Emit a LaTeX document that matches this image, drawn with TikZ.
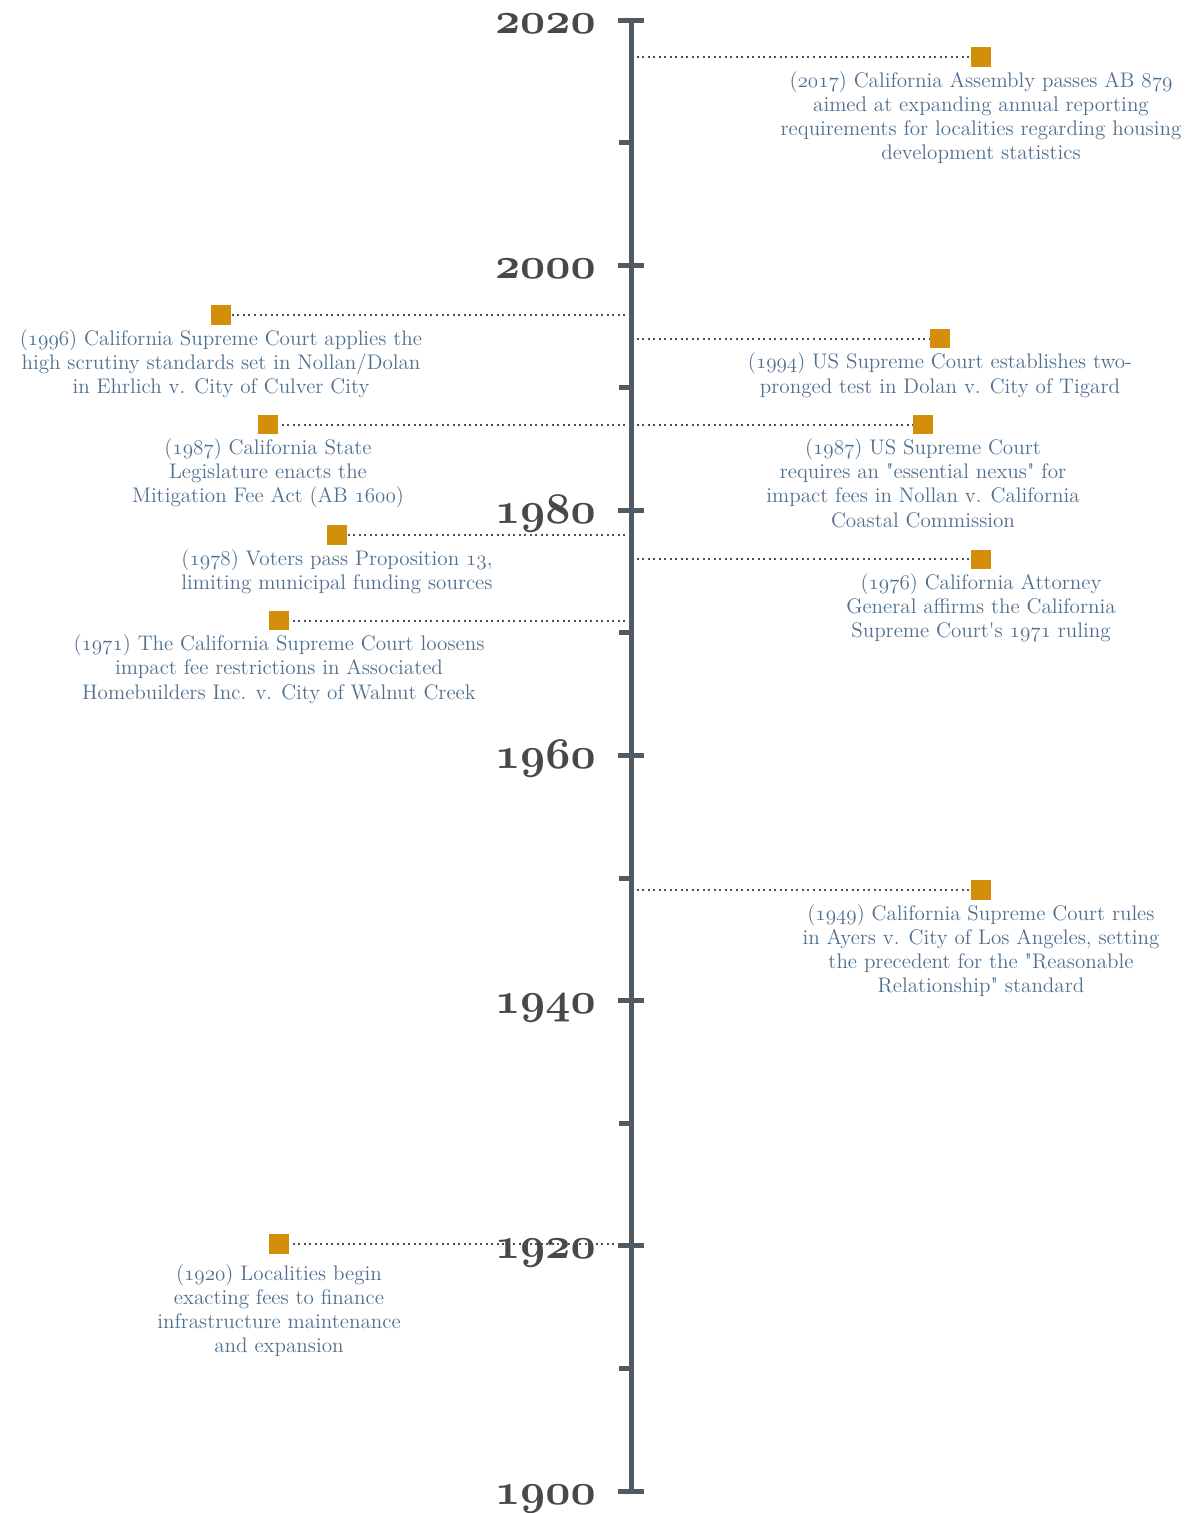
\documentclass[tikz,border=0pt]{standalone}
\usepackage{fontspec}
\usetikzlibrary{positioning}

\definecolor{axisgray}{HTML}{4F5A64}
\definecolor{notetext}{HTML}{4E6F8E}
\definecolor{markgold}{HTML}{D48F0A}
\definecolor{dotblue}{HTML}{3E5569}
\definecolor{yeargray}{HTML}{484848}
\newfontfamily\lmplain{Latin Modern Roman}
\newcommand{\os}[1]{{\usefont{OML}{cmm}{m}{it}#1}}
\newcommand{\osb}[1]{{\usefont{OML}{cmm}{b}{it}#1}}
\newcommand{\dq}{{\lmplain"}}
\newcommand{\sq}{{\lmplain'}}

\begin{document}
\begin{tikzpicture}[
  x=0.2mm, y=-0.2mm,
  axisline/.style={
        draw=axisgray,
        line width=1mm
  },
  marker/.style={
        fill=markgold,
        minimum size=3.9mm,
        inner sep=0
  },
  note/.style={
        text=notetext,
        align=center,
        inner sep=0,
        font=\fontsize{12}{13.7}\selectfont
  },
  yearlabel/.style={
        text=yeargray,
        anchor=base east,
        inner sep=0,
        font=\fontsize{24.88}{25}\selectfont
  },
  link/.style={
        draw=dotblue,
        line width=0.4mm,
        dotted
  }
]

    \useasboundingbox (0,0) rectangle (1204,1513);

    % year labels
    \foreach \yr [count=\i from 0] in {2020,2000,...,1900}
        \node[yearlabel] (y\yr) at (596, {20+\i*245.17+13}) {\osb{\yr}};

    % events, right side
    \node[marker] (m2017) at (981, 56.8) {};
    \node[note, below=0.8mm of m2017] (n2017) {(\os{2017}) California Assembly passes AB \os{879}\\aimed at expanding annual reporting\\requirements for localities regarding housing\\development statistics};
    \node[marker] (m1994) at (940, 338.7) {};
    \node[note, below=0.8mm of m1994] (n1994) {(\os{1994}) US Supreme Court establishes two-\\pronged test in Dolan v. City of Tigard};
    \node[marker] (m1987b) at (923, 424.5) {};
    \node[note, below=0.8mm of m1987b] (n1987b) {(\os{1987}) US Supreme Court\\requires an \dq essential nexus\dq{} for\\impact fees in Nollan v. California\\Coastal Commission};
    \node[marker] (m1976) at (981, 559.4) {};
    \node[note, below=0.8mm of m1976] (n1976) {(\os{1976}) California Attorney\\General affirms the California\\Supreme Court\sq s \os{1971} ruling};
    \node[marker] (m1949) at (981, 890) {};
    \node[note, below=0.8mm of m1949] (n1949) {(\os{1949}) California Supreme Court rules\\in Ayers v. City of Los Angeles, setting\\the precedent for the \dq Reasonable\\Relationship\dq{} standard};

    % events, left side
    \node[marker] (m1996) at (221, 315) {};
    \node[note, below=0.8mm of m1996] (n1996) {(\os{1996}) California Supreme Court applies the\\high scrutiny standards set in Nollan/Dolan\\in Ehrlich v. City of Culver City};
    \node[marker] (m1987a) at (268, 424.5) {};
    \node[note, below=0.8mm of m1987a] (n1987a) {(\os{1987}) California State\\Legislature enacts the\\Mitigation Fee Act (AB \os{1600})};
    \node[marker] (m1978) at (337, 534.8) {};
    \node[note, below=0.8mm of m1978] (n1978) {(\os{1978}) Voters pass Proposition \os{13},\\limiting municipal funding sources};
    \node[marker] (m1971) at (279, 620.6) {};
    \node[note, below=0.8mm of m1971] (n1971) {(\os{1971}) The California Supreme Court loosens\\impact fee restrictions in Associated\\Homebuilders Inc. v. City of Walnut Creek};
    \node[marker] (m1920) at (279, 1244) {};
    \node[note, below=2mm of m1920] (n1920) {(\os{1920}) Localities begin\\exacting fees to finance\\infrastructure maintenance\\and expansion};

    % points on the axis
    \coordinate (t2017) at (631, 56.8);
    \coordinate (t1996) at (631, 315);
    \coordinate (t1994) at (631, 338.7);
    \coordinate (t1987) at (631, 424.5);
    \coordinate (t1978) at (631, 534.8);
    \coordinate (t1976) at (631, 559.4);
    \coordinate (t1971) at (631, 620.6);
    \coordinate (t1949) at (631, 890);
    \coordinate (t1920) at (631, 1244);

    \draw[link] (t2017) -- (m2017);
    \draw[link] (t1996) -- (m1996);
    \draw[link] (t1994) -- (m1994);
    \draw[link] (t1987) -- (m1987a);
    \draw[link] (t1987) -- (m1987b);
    \draw[link] (t1978) -- (m1978);
    \draw[link] (t1976) -- (m1976);
    \draw[link] (t1971) -- (m1971);
    \draw[link] (t1949) -- (m1949);
    \draw[link] (t1920) -- (m1920);

    % the axis
    \draw[axisline] (631, 17.5) -- (631, 1493.6);
    \foreach \i in {0,...,6}
        \draw[axisline] (618, {20+\i*245.17}) -- (644, {20+\i*245.17});
    \foreach \i in {0,...,5}
        \draw[axisline] (619, {20+\i*245.17+122.6}) -- (631, {20+\i*245.17+122.6});
\end{tikzpicture}
\end{document}
